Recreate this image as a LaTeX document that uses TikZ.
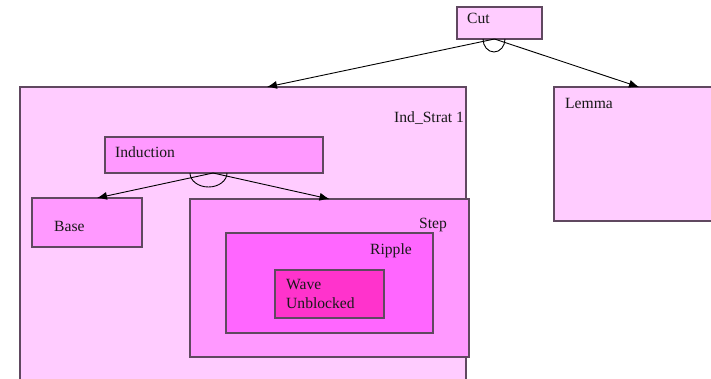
\documentclass[tikz,border=0pt]{standalone}
\usepackage{fontspec}
\setmainfont{Liberation Serif}
\usetikzlibrary{arrows.meta,calc}
\definecolor{edgecol}{HTML}{604860}
\definecolor{pinkA}{HTML}{FFCCFF}
\definecolor{pinkB}{HTML}{FF99FF}
\definecolor{pinkC}{HTML}{FF66FF}
\definecolor{pinkD}{HTML}{FF33CC}
\begin{document}
\begin{tikzpicture}[x=1pt,y=-1pt,
  box/.style={draw=edgecol,line width=1.1pt,anchor=north west,inner sep=0pt,outer sep=0pt},
  lbl/.style={anchor=base west,inner sep=0pt,text=black!90,font=\fontsize{15.6}{19}\selectfont},
  link/.style={-{Latex[length=10pt,width=8pt]},line width=0.9pt},
  andarc/.style={line width=0.9pt}]
\useasboundingbox (0,0) rectangle (711,378);
\clip (0,0) rectangle (711,378);
\fill[white] (0,0) rectangle (711,378);

% boxes, outermost first
\node[box,fill=pinkA,minimum width=85,minimum height=32] (cut) at (457,7) {};
\node[box,fill=pinkA,minimum width=446,minimum height=320] (indstrat) at (20,87) {};
\node[box,fill=pinkA,minimum width=170,minimum height=134] (lemma) at (554,87) {};
\node[box,fill=pinkB,minimum width=218,minimum height=36] (induction) at (105,137) {};
\node[box,fill=pinkB,minimum width=110,minimum height=49] (base) at (32,198) {};
\node[box,fill=pinkB,minimum width=279,minimum height=158] (step) at (190,199) {};
\node[box,fill=pinkC,minimum width=207,minimum height=100] (ripple) at (226,233) {};
\node[box,fill=pinkD,minimum width=109,minimum height=48] (wave) at (275,270) {};

% labels
\node[lbl] (cutL) at (467,23) {Cut};
\node[lbl] (indstratL) at (394,122) {Ind\_Strat 1};
\node[lbl] (lemmaL) at (565,108) {Lemma};
\node[lbl] (inductionL) at (115,157) {Induction};
\node[lbl] (baseL) at (54,231) {Base};
\node[lbl] (stepL) at (419,228) {Step};
\node[lbl] (rippleL) at (370,254) {Ripple};
\node[lbl] (waveL) at (286,289) {Wave};
\node[lbl] (waveL2) at (286,308) {Unblocked};

% fork points and and-arcs (the arcs hang below the parent box)
\coordinate (cutfork) at ($(cut.south)+(-5,0)$);
\coordinate (indfork) at ($(induction.south)+(-1,0)$);
\coordinate (indstratIn) at ($(indstrat.north west)+(247,0)$);
\coordinate (baseIn) at ($(base.north)+(10,0)$);

\draw[andarc] ($(cut.south)+(-16.5,0)$) arc[start angle=180,end angle=0,x radius=11,y radius=13];
\draw[andarc] ($(induction.south)+(-24,0)$) arc[start angle=180,end angle=0,x radius=18.5,y radius=14];

% connectors
\draw[link] (cutfork) -- (indstratIn);
\draw[link] (cutfork) -- (lemma.north);
\draw[link] (indfork) -- (baseIn);
\draw[link] (indfork) -- (step.north);
\end{tikzpicture}
\end{document}
